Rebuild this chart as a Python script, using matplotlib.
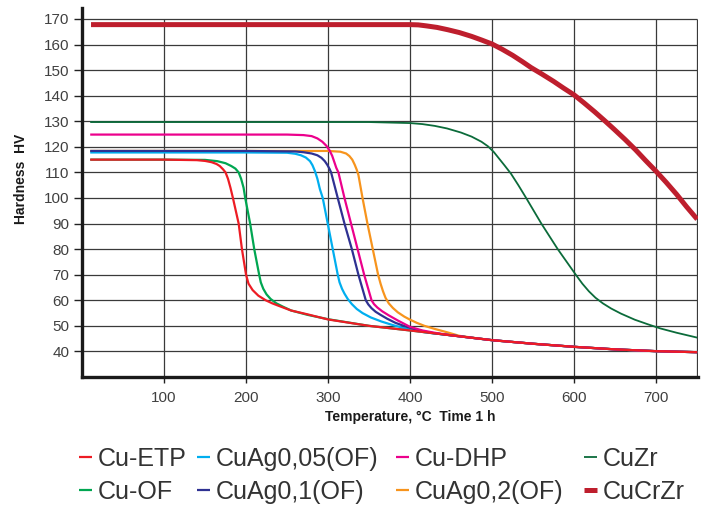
import numpy as np
import matplotlib
matplotlib.use("Agg")
import matplotlib.pyplot as plt

# Hardness vs annealing temperature (1 h)

cu_etp_t = [10, 100, 140, 150, 158, 164, 168, 172, 175, 178, 181, 184, 191, 195, 200, 203, 208, 215, 224, 232, 240, 255, 275, 300, 350, 400, 450, 500, 550, 600, 650, 700, 750]
cu_etp_hv = [115, 115, 114.8, 114.5, 114, 113.3, 112.5, 111.2, 110, 107.5, 104, 100, 90, 80, 70, 66.5, 64, 61.8, 60, 58.8, 57.8, 56, 54.5, 52.5, 50, 48.2, 46.3, 44.4, 43, 41.8, 40.8, 40.1, 39.7]

cu_of_t = [10, 100, 150, 165, 175, 182, 187, 191, 194, 197, 199, 205, 210, 216, 218, 221, 225, 230, 237, 245, 255, 275, 300, 350, 400, 450, 500, 550, 600, 650, 700, 750]
cu_of_hv = [115, 115, 114.9, 114.4, 113.6, 112.5, 111.5, 110, 107.5, 104, 100, 90, 80, 70, 67, 64.5, 62.3, 60.5, 58.8, 57.5, 56, 54.3, 52.6, 50, 48.2, 46.3, 44.4, 43, 41.8, 40.8, 40.1, 39.7]

ag005_t = [10, 200, 250, 260, 267, 273, 278, 281, 284, 287, 290, 293.5, 299.6, 305.7, 311.8, 314, 317, 320, 324, 329, 335, 342, 352, 365, 380, 400, 420, 450, 500, 550, 600, 650, 700, 750]
ag005_hv = [117.8, 117.8, 117.7, 117.3, 116.7, 115.8, 114.4, 112.8, 110.5, 107.5, 103.5, 100, 90, 80, 70, 67, 64.5, 62.6, 60.5, 58.5, 56.6, 55, 53.3, 51.7, 50.2, 48.5, 47.4, 46.3, 44.4, 43, 41.8, 40.8, 40.1, 39.7]

ag01_t = [10, 200, 260, 270, 280, 287, 292, 296, 299, 301.6, 303.7, 311.8, 320, 329, 337, 346, 349, 353, 358, 364, 372, 382, 395, 410, 425, 450, 500, 550, 600, 650, 700, 750]
ag01_hv = [118.4, 118.4, 118.2, 117.9, 117.4, 116.7, 115.7, 114.4, 113, 111.5, 110, 100, 90, 80, 70, 60, 58.4, 56.9, 55.5, 54.3, 52.8, 51.2, 49.7, 48.3, 47.3, 46.3, 44.4, 43, 41.8, 40.8, 40.1, 39.7]

dhp_t = [10, 250, 270, 280, 287, 293, 298, 302, 305, 307.7, 310, 312.6, 320, 328, 336, 344, 353, 356, 360, 366, 374, 385, 400, 415, 430, 450, 500, 550, 600, 650, 700, 750]
dhp_hv = [124.8, 124.8, 124.6, 124.2, 123.3, 122, 120.4, 118.5, 116.5, 114, 111.8, 110, 100, 90, 80, 70, 60, 58.5, 57.2, 55.7, 54.1, 52.1, 49.6, 48.2, 47.3, 46.3, 44.4, 43, 41.8, 40.8, 40.1, 39.7]

ag02_t = [10, 250, 300, 315, 322, 326, 329.5, 332.5, 335, 337, 342, 348, 354.5, 361, 364, 367, 370, 374, 379, 385, 393, 400, 408, 417.5, 430, 445, 460, 480, 500, 550, 600, 650, 700, 750]
ag02_hv = [118.4, 118.4, 118.4, 118.1, 117.4, 116.4, 115, 113, 111, 109, 100, 90, 80, 70, 66.5, 63.5, 61, 58.8, 57, 55.3, 53.6, 52.4, 51.2, 50, 48.8, 47.5, 46.1, 45.2, 44.4, 43, 41.8, 40.8, 40.1, 39.7]

cuzr_t = [10, 350, 400, 415, 430, 445, 462, 475, 487, 495, 502, 508, 515, 523, 532, 541.5, 560, 580, 602, 610, 618, 626, 635, 645, 657, 674, 690, 705, 725, 750]
cuzr_hv = [129.7, 129.7, 129.3, 128.9, 128.2, 127.2, 125.6, 124, 122, 120.2, 118, 115.6, 112.8, 109.5, 105, 100, 90, 80, 70, 66.5, 63.5, 61, 58.8, 56.8, 54.8, 52.4, 50.6, 49, 47.3, 45.4]

cucrzr_t = [11, 365, 400, 410, 420, 433, 446, 460, 475, 487, 500, 512, 525, 537, 547.5, 560, 575, 587, 600, 612, 625, 637, 649, 662, 675, 687, 700, 712, 725, 737, 750]
cucrzr_hv = [167.8, 167.8, 167.8, 167.7, 167.3, 166.7, 165.8, 164.7, 163.2, 161.8, 160.2, 158.2, 155.8, 153.3, 151, 148.6, 145.6, 143, 140.3, 137.2, 133.7, 130.3, 126.8, 122.9, 118.8, 114.7, 110.4, 106.2, 101.4, 96.6, 91.7]

series = [
    ("Cu-ETP", cu_etp_t, cu_etp_hv, "#ed1c24", 1.6),
    ("Cu-OF", cu_of_t, cu_of_hv, "#00a651", 1.6),
    ("CuAg0,05(OF)", ag005_t, ag005_hv, "#00aeef", 1.6),
    ("CuAg0,1(OF)", ag01_t, ag01_hv, "#2e3192", 1.6),
    ("Cu-DHP", dhp_t, dhp_hv, "#ec008c", 1.6),
    ("CuAg0,2(OF)", ag02_t, ag02_hv, "#f7941d", 1.6),
    ("CuZr", cuzr_t, cuzr_hv, "#0b6b3a", 1.3),
    ("CuCrZr", cucrzr_t, cucrzr_hv, "#be1e2d", 3.6),
]

x_ticks = [100, 200, 300, 400, 500, 600, 700]
y_ticks = [40, 50, 60, 70, 80, 90, 100, 110, 120, 130, 140, 150, 160, 170]

plt.rcParams['font.family'] = ['Liberation Sans', 'DejaVu Sans']

fig = plt.figure(figsize=(7.04, 5.05), dpi=100)
ax = fig.add_axes([82 / 704, 128 / 505, 616 / 704, 369 / 505])

grid_c = "#3a3a3a"
ax.hlines(y_ticks, 0, 750, color=grid_c, lw=0.9, zorder=1)
ax.vlines(x_ticks + [750], 30, 170, color=grid_c, lw=0.9, zorder=1)

# draw order: orange sits under the blues on the plateau, Cu-ETP on top of the tail
order = [6, 7, 5, 1, 2, 3, 4, 0]
lines = {}
for i in order:
    name, t, hv, c, lw = series[i]
    ln, = ax.plot(t, hv, color=c, lw=lw, solid_capstyle='butt',
                  solid_joinstyle='round', zorder=3)
    lines[i] = ln

ax.set_xlim(0, 751)
ax.set_ylim(30, 174.3)
ax.set_xticks(x_ticks)
ax.set_yticks(y_ticks)
ax.tick_params(axis='x', direction='out', length=4, width=1, pad=6, labelsize=11, labelcolor='#404040', color='#222222')
ax.tick_params(axis='y', direction='out', length=6, width=1, pad=3, labelsize=11, labelcolor='#404040', color='#222222')

for s in ['top', 'right']:
    ax.spines[s].set_visible(False)
for s in ['left', 'bottom']:
    ax.spines[s].set_linewidth(2.4)
    ax.spines[s].set_color('#1a1a1a')

ax.set_xlabel("Temperature, °C  Time 1 h", fontsize=10, fontweight='bold', color='#1a1a1a')
ax.xaxis.set_label_coords((410 - 82) / 616, -0.09)
ax.set_ylabel("Hardness  HV", fontsize=10, fontweight='bold', color='#1a1a1a')
ax.yaxis.set_label_coords(-0.088, (377 - 179) / 369)

# legend: four two-row columns, each placed where the original has it
col_left_px = [79, 197, 396, 584]
for c, x_px in enumerate(col_left_px):
    idx = [2 * c, 2 * c + 1]
    leg = fig.legend([lines[i] for i in idx], [series[i][0] for i in idx],
                     loc='upper left', bbox_to_anchor=(x_px / 704, 1 - 447 / 505),
                     frameon=False, fontsize=18, handlelength=0.5, handletextpad=0.25,
                     labelspacing=0.36, borderpad=0, borderaxespad=0)
    for txt in leg.get_texts():
        txt.set_color('#333333')

fig.savefig("out.png", dpi=100)
